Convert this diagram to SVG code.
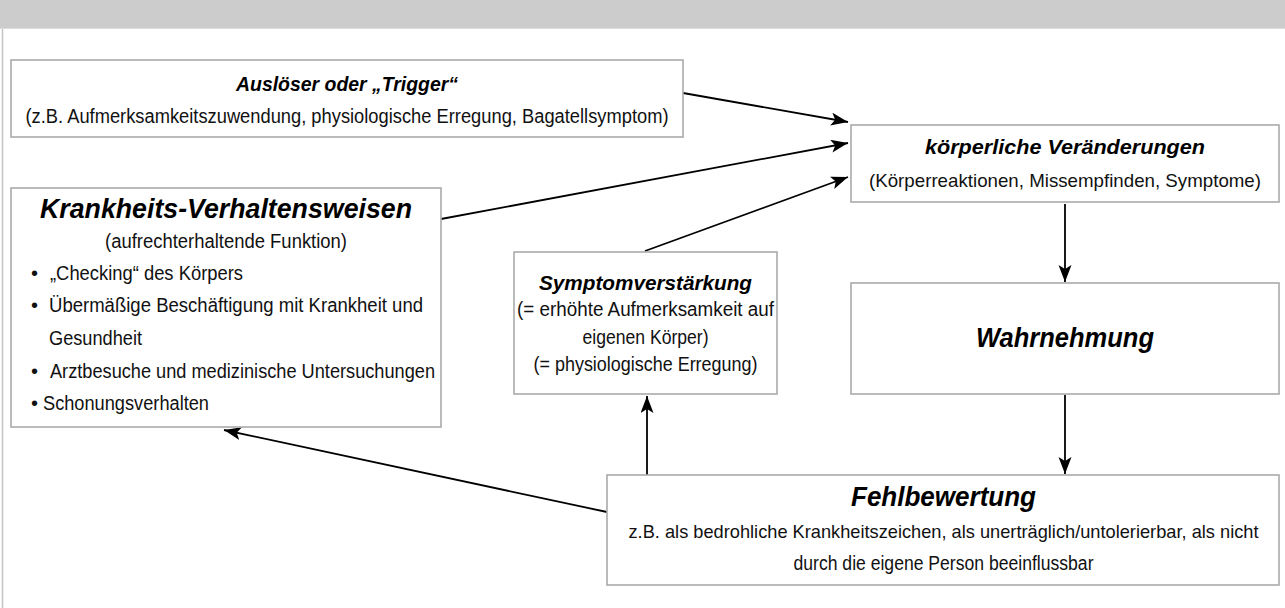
<svg xmlns="http://www.w3.org/2000/svg" width="1285" height="608" viewBox="0 0 1285 608">
<defs>
<marker id="ah" markerUnits="userSpaceOnUse" markerWidth="20" markerHeight="14" refX="17" refY="6.5" orient="auto">
<path d="M0,0 L17,6.5 L0,13 L4,6.5 Z" fill="#000"/>
</marker>
</defs>
<style>
text{font-family:'Liberation Sans',Arial,'DejaVu Sans',sans-serif;fill:#111;text-anchor:middle}
.t{font-weight:bold;font-style:italic;font-size:20px;fill:#000}
.T{font-weight:bold;font-style:italic;font-size:27px;fill:#000}
.s{font-size:20px}
.n{font-size:19px}
.l{text-anchor:start}
.box{fill:#fff;stroke:#aaaaaa;stroke-width:1.6}
.c{fill:none;stroke:#000;stroke-width:1.8;marker-end:url(#ah)}
</style>
<rect x="0" y="0" width="1285" height="608" fill="#fff"/>
<rect x="0" y="0" width="1285" height="28" fill="#cccccc"/>
<line x1="0" y1="28.5" x2="1285" y2="28.5" stroke="#dddddd" stroke-width="1"/>
<line x1="2.5" y1="29" x2="2.5" y2="608" stroke="#c4c4c4" stroke-width="1.5"/>

<g id="connectors">
<line class="c" x1="683" y1="93" x2="848" y2="122"/>
<line class="c" x1="441" y1="219" x2="848" y2="143"/>
<line class="c" x1="645" y1="251" x2="848" y2="177"/>
<line class="c" x1="1065" y1="204" x2="1065" y2="282"/>
<line class="c" x1="1065" y1="395" x2="1065" y2="474"/>
<line class="c" x1="647" y1="475" x2="647" y2="396"/>
<line class="c" x1="607" y1="512" x2="224" y2="430"/>
</g>

<g id="ausloeser">
<rect class="box" x="11" y="60" width="672" height="77"/>
<text class="t" x="347" y="91" textLength="222" lengthAdjust="spacingAndGlyphs">Auslöser oder „Trigger“</text>
<text class="s" x="347" y="123" textLength="643" lengthAdjust="spacingAndGlyphs">(z.B. Aufmerksamkeitszuwendung, physiologische Erregung, Bagatellsymptom)</text>
</g>

<g id="koerper">
<rect class="box" x="851" y="125" width="428" height="77"/>
<text class="t" x="1065" y="154" textLength="280" lengthAdjust="spacingAndGlyphs">körperliche Veränderungen</text>
<text class="n" x="1065" y="187" textLength="392" lengthAdjust="spacingAndGlyphs">(Körperreaktionen, Missempfinden, Symptome)</text>
</g>

<g id="krankheit">
<rect class="box" x="11" y="188" width="430" height="239"/>
<text class="T" x="226" y="218" textLength="372" lengthAdjust="spacingAndGlyphs">Krankheits-Verhaltensweisen</text>
<text class="s" x="226" y="248" textLength="242" lengthAdjust="spacingAndGlyphs">(aufrechterhaltende Funktion)</text>
<text class="s l" x="31" y="280">•</text>
<text class="s l" x="50" y="280" textLength="193" lengthAdjust="spacingAndGlyphs">„Checking“ des Körpers</text>
<text class="s l" x="31" y="312">•</text>
<text class="s l" x="49" y="312" textLength="374" lengthAdjust="spacingAndGlyphs">Übermäßige Beschäftigung mit Krankheit und</text>
<text class="s l" x="49" y="345" textLength="93" lengthAdjust="spacingAndGlyphs">Gesundheit</text>
<text class="s l" x="31" y="378">•</text>
<text class="s l" x="50" y="378" textLength="385" lengthAdjust="spacingAndGlyphs">Arztbesuche und medizinische Untersuchungen</text>
<text class="s l" x="31" y="410">•</text>
<text class="s l" x="43" y="410" textLength="166" lengthAdjust="spacingAndGlyphs">Schonungsverhalten</text>
</g>

<g id="symptom">
<rect class="box" x="514" y="252" width="263" height="142"/>
<text class="t" x="645.5" y="290" textLength="213" lengthAdjust="spacingAndGlyphs">Symptomverstärkung</text>
<text class="s" x="645.5" y="316" textLength="257" lengthAdjust="spacingAndGlyphs">(= erhöhte Aufmerksamkeit auf</text>
<text class="s" x="645.5" y="344" textLength="126" lengthAdjust="spacingAndGlyphs">eigenen Körper)</text>
<text class="s" x="645.5" y="371" textLength="224" lengthAdjust="spacingAndGlyphs">(= physiologische Erregung)</text>
</g>

<g id="wahrnehmung">
<rect class="box" x="851" y="283" width="428" height="111"/>
<text class="T" x="1065" y="347" textLength="178" lengthAdjust="spacingAndGlyphs">Wahrnehmung</text>
</g>

<g id="fehlbewertung">
<rect class="box" x="607" y="475" width="672" height="110"/>
<text class="T" x="943.5" y="506" textLength="185" lengthAdjust="spacingAndGlyphs">Fehlbewertung</text>
<text class="n" x="943.5" y="538" textLength="630" lengthAdjust="spacingAndGlyphs">z.B. als bedrohliche Krankheitszeichen, als unerträglich/untolerierbar, als nicht</text>
<text class="s" x="943.5" y="570" textLength="300" lengthAdjust="spacingAndGlyphs">durch die eigene Person beeinflussbar</text>
</g>
</svg>
